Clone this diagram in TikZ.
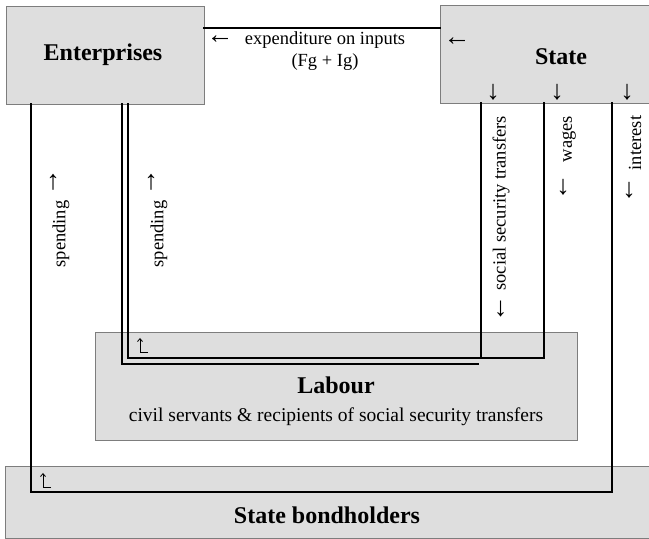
\documentclass[tikz,border=0pt]{standalone}
\usepackage{fontspec}
\setmainfont{Liberation Serif}
\usetikzlibrary{arrows.meta}
\definecolor{boxfill}{RGB}{222,222,222}
\definecolor{boxline}{RGB}{125,125,125}
\newcommand{\bigarr}[1]{{\fontsize{27}{20}\selectfont #1}}
\begin{document}
\begin{tikzpicture}[x=1pt,y=1pt,
  box/.style={fill=boxfill, draw=boxline, line width=0.9pt, inner sep=0pt, outer sep=0pt, anchor=north west},
  openbox/.style={fill=boxfill, inner sep=0pt, outer sep=0pt, anchor=north west},
  border/.style={draw=boxline, line width=0.9pt},
  flow/.style={line width=1.7pt, line join=miter, line cap=rect},
  lbl/.style={font=\fontsize{18.5}{20}\selectfont, inner sep=0pt},
  arr/.style={font=\fontsize{27}{28}\selectfont, inner sep=0pt},
  barrow/.style={font=\bfseries\fontsize{27}{28}\selectfont, inner sep=0pt},
  title/.style={font=\bfseries\fontsize{24}{26}\selectfont, inner sep=0pt},
  sub/.style={font=\fontsize{19.5}{22}\selectfont, inner sep=0pt},
  turn/.style={line width=0.8pt, -{Straight Barb[length=3pt,width=5pt]}}
]
\useasboundingbox (0,0) rectangle (649,539);

% boxes
\node[box, minimum width=198pt, minimum height=98pt] (ent) at (6,533) {};
\node[openbox, minimum width=209pt, minimum height=98pt] (st) at (440,534) {};
\draw[border] (st.north east) -- (st.north west) -- (st.south west) -- (st.south east);
\node[box, minimum width=482pt, minimum height=108pt] (lab) at (95,207) {};
\node[openbox, minimum width=644pt, minimum height=72pt] (bond) at (5,73) {};
\draw[border] (bond.north east) -- (bond.north west) -- (bond.south west) -- (bond.south east);

% helper coordinates
\coordinate (ytop) at (0,511);
\coordinate (xa) at (31,0);
\coordinate (xi) at (612,0);
\coordinate (ybond) at (0,47);
\coordinate (xw1) at (128,0);
\coordinate (xw0) at (122,0);
\coordinate (xw) at (544,0);
\coordinate (xs) at (481,0);
\coordinate (xe) at (478,0);
\coordinate (yin) at (0,181);
\coordinate (yout) at (0,175);

% connectors
\draw[flow] (ent.east |- ytop) -- (st.west |- ytop);
\draw[flow] (ent.south -| xa) |- (xi |- ybond) -- (st.south -| xi);
\draw[flow] (ent.south -| xw1) |- (xw |- yin) -- (st.south -| xw);
\draw[flow] (ent.south -| xw0) |- (xe |- yout);
\draw[flow] (st.south -| xs) -- (xs |- yin);

% small turning arrows
\coordinate (t1a) at (148,187);
\coordinate (t1b) at (140,187);
\coordinate (t1c) at (140,201);
\draw[turn] (t1a) -- (t1b) -- (t1c);
\coordinate (t2a) at (51,52);
\coordinate (t2b) at (43,52);
\coordinate (t2c) at (43,66);
\draw[turn] (t2a) -- (t2b) -- (t2c);

% titles
\node[title] (enttxt) at (103,484) {Enterprises};
\node[title] (sttxt) at (561,482) {State};
\node[title] (labtxt) at (336,154) {Labour};
\node[sub] (labsub) at (336,122) {civil servants \& recipients of social security transfers};
\node[title] (bondtxt) at (327,24) {State bondholders};

% top labels
\node[arr] (exparr) at (220,499) {←};
\node[lbl] (exp1) at (325,499) {expenditure on inputs};
\node[lbl] (exp2) at (325,477) {(Fg + Ig)};
\node[arr] (starr) at (457,497) {←};
\node[arr] (d1) at (493,447) {↓};
\node[arr] (d2) at (557,447) {↓};
\node[arr] (d3) at (627,447) {↓};

% vertical labels
\node[barrow] (u1) at (53,357) {↑};
\node[lbl, rotate=90] (sp1) at (61,305) {spending};
\node[barrow] (u2) at (151,357) {↑};
\node[lbl, rotate=90] (sp2) at (159,305) {spending};
\node[lbl, rotate=90] (sst) at (501,320) {\bigarr{←} social security transfers};
\node[lbl, rotate=90] (wg) at (569,400) {wages};
\node[arr] (wgarr) at (563,352) {↓};
\node[lbl, rotate=90] (intr) at (635,396) {interest};
\node[arr] (intarr) at (629,349) {↓};
\end{tikzpicture}
\end{document}
